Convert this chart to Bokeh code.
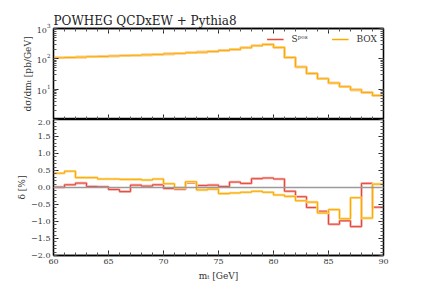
from bokeh.plotting import figure
from bokeh.layouts import column
from bokeh.models import (Range1d, LinearAxis, LogAxis, Span, Legend, LegendItem,
                          FixedTicker, CustomJSTickFormatter)
from bokeh.embed import file_html
from bokeh.resources import INLINE

# ---- data ----
bin_edges = list(range(60, 91))  # 1 GeV bins, 60..90
xsec_spos = [108, 111, 114, 117, 120, 124, 127, 131, 135, 140, 146, 152, 158, 166, 175,
             189, 205, 231, 269, 299, 238, 111, 54, 33, 22, 16, 12, 9.5, 7.8, 6.2]
xsec_box = [108, 111, 114, 117, 120, 124, 127, 131, 135, 140, 146, 152, 158, 166, 175,
            189, 205, 231, 269, 299, 238, 111, 54, 33, 22, 16, 12, 9.5, 7.8, 6.2]
delta_spos = [0.01, 0.08, 0.13, 0.03, 0.02, -0.06, -0.12, 0.07, 0.04, 0.08, -0.03, -0.05,
              0.14, 0.06, 0.07, 0.03, 0.16, 0.12, 0.26, 0.28, 0.25, -0.11, -0.27, -0.59,
              -0.70, -1.08, -0.98, -1.15, 0.12, -0.58]
delta_box = [0.42, 0.48, 0.29, 0.29, 0.25, 0.25, 0.24, 0.24, 0.22, 0.25, 0.11, -0.01,
             0.17, -0.07, -0.05, -0.18, -0.16, -0.14, -0.11, -0.14, -0.22, -0.26, -0.39,
             -0.43, -0.75, -0.65, -0.92, -0.30, -0.90, 0.10]
x_major = [60, 65, 70, 75, 80, 85, 90]
x_minor = list(range(60, 91))
y_ratio_major = [-2.0, -1.5, -1.0, -0.5, 0.0, 0.5, 1.0, 1.5, 2.0]
y_ratio_minor = [round(-2.0 + 0.1 * i, 1) for i in range(41)]
y_log_major = [10, 100, 1000]
y_log_minor = [m * d for d in (1, 10, 100) for m in range(1, 10)] + [1000]
title_text = "POWHEG QCDxEW + Pythia8"
label_spos = "S\u1d56\u1d52\u02e2"
label_box = "BOX"

RED = "#e4483b"
RED_LIGHT = "#f6b0aa"
ORANGE = "#f9ab00"
ORANGE_LIGHT = "#ffd889"
SERIF = "DejaVu Serif"

blank = CustomJSTickFormatter(code="return '';")


def stepy(vals):
    return list(vals) + [vals[-1]]


def style_axis(ax, labels=True):
    ax.major_tick_in = 5
    ax.major_tick_out = 0
    ax.minor_tick_in = 3
    ax.minor_tick_out = 0
    ax.axis_line_color = "black"
    ax.axis_line_width = 1.3
    ax.major_tick_line_color = "#222222"
    ax.minor_tick_line_color = "#555555"
    ax.major_label_text_font = SERIF
    ax.major_label_text_font_size = "8px"
    ax.major_label_text_color = "#333333"
    ax.major_label_standoff = 3 if labels else 0
    ax.axis_label_text_font = SERIF
    ax.axis_label_text_font_size = "9px"
    ax.axis_label_text_font_style = "normal"
    ax.axis_label_text_color = "#333333"
    ax.axis_label_standoff = 1
    if not labels:
        ax.formatter = blank


xr = Range1d(60, 90)

# ---- upper panel ----
p1 = figure(width=393, height=119, x_range=xr, y_range=Range1d(1, 1000),
            y_axis_type="log", output_backend="svg", toolbar_location=None,
            title=title_text, min_border_left=53, min_border_right=10,
            min_border_top=28, min_border_bottom=0)
p1.title.text_font = SERIF
p1.title.text_font_size = "12px"
p1.title.text_font_style = "normal"
p1.title.text_color = "#222222"
p1.title.offset = 0
p1.title.standoff = 2
p1.grid.visible = False
p1.outline_line_color = "black"
p1.outline_line_width = 1.3

p1.step(bin_edges, stepy(xsec_spos), mode="after", line_color=RED_LIGHT, line_width=2.6)
r1 = p1.step(bin_edges, stepy(xsec_spos), mode="after", line_color=RED, line_width=1.0)
p1.step(bin_edges, stepy(xsec_box), mode="after", line_color=ORANGE_LIGHT, line_width=2.6)
r2 = p1.step(bin_edges, stepy(xsec_box), mode="after", line_color=ORANGE, line_width=1.0)

# legend proxies (a single undefined point, draws nothing in the frame)
lg1 = p1.line(x=[75], y=[float("nan")], line_color=RED, line_width=1.4)
lg2 = p1.line(x=[75], y=[float("nan")], line_color=ORANGE, line_width=1.4)

p1.xaxis.ticker = FixedTicker(ticks=x_major, minor_ticks=x_minor)
style_axis(p1.xaxis[0], labels=False)
p1.yaxis.ticker = FixedTicker(ticks=y_log_major, minor_ticks=y_log_minor)
style_axis(p1.yaxis[0])
p1.yaxis.axis_label = "d\u03c3/dm\u209c [pb/GeV]"
p1.yaxis.axis_label_standoff = 1

ax_r1 = LogAxis(ticker=FixedTicker(ticks=y_log_major, minor_ticks=y_log_minor))
style_axis(ax_r1, labels=False)
p1.add_layout(ax_r1, "right")
ax_t1 = LinearAxis(ticker=FixedTicker(ticks=x_major, minor_ticks=x_minor))
style_axis(ax_t1, labels=False)
p1.add_layout(ax_t1, "above")

legend = Legend(items=[LegendItem(label=label_spos, renderers=[lg1]),
                       LegendItem(label=label_box, renderers=[lg2])],
                location="top_right", orientation="horizontal",
                border_line_color=None, background_fill_alpha=0,
                label_text_font=SERIF, label_text_font_size="9px",
                label_text_color="#333333",
                glyph_width=17, glyph_height=8, label_standoff=8, spacing=20,
                padding=2, margin=6)
p1.add_layout(legend)

# ---- lower panel ----
p2 = figure(width=393, height=164, x_range=xr, y_range=Range1d(-2, 2),
            output_backend="svg", toolbar_location=None,
            min_border_left=53, min_border_right=10, min_border_top=0, min_border_bottom=0)
p2.grid.visible = False
p2.outline_line_color = "black"
p2.outline_line_width = 1.3

p2.add_layout(Span(location=0, dimension="width", line_color="#9a9a9a", line_width=1.3))
p2.step(bin_edges, stepy(delta_spos), mode="after", line_color=RED_LIGHT, line_width=2.6)
p2.step(bin_edges, stepy(delta_spos), mode="after", line_color=RED, line_width=1.0)
p2.step(bin_edges, stepy(delta_box), mode="after", line_color=ORANGE_LIGHT, line_width=2.6)
p2.step(bin_edges, stepy(delta_box), mode="after", line_color=ORANGE, line_width=1.0)

p2.xaxis.ticker = FixedTicker(ticks=x_major, minor_ticks=x_minor)
style_axis(p2.xaxis[0])
p2.xaxis.axis_label = "m\u209c [GeV]"
p2.xaxis.axis_label_standoff = 4
fmt = CustomJSTickFormatter(code="return tick.toFixed(1).replace('-', '\\u2212');")
p2.yaxis.ticker = FixedTicker(ticks=y_ratio_major, minor_ticks=y_ratio_minor)
p2.yaxis.formatter = fmt
style_axis(p2.yaxis[0])
p2.yaxis.axis_label = "\u03b4 [%]"

ax_r2 = LinearAxis(ticker=FixedTicker(ticks=y_ratio_major, minor_ticks=y_ratio_minor))
style_axis(ax_r2, labels=False)
p2.add_layout(ax_r2, "right")

layout = column(p1, p2, spacing=0)
open("out.html", "w").write(file_html(layout, INLINE))
